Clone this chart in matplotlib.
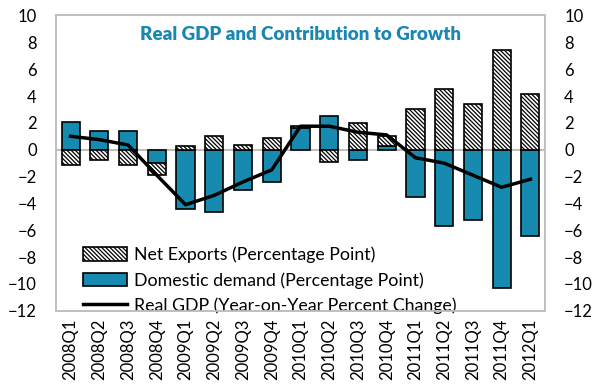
import numpy as np
import matplotlib
matplotlib.use('Agg')
import matplotlib.pyplot as plt

plt.rcParams['font.family'] = ['Lato', 'DejaVu Sans']
plt.rcParams['hatch.color'] = '#505050'
plt.rcParams['hatch.linewidth'] = 0.9

# Trimestres y contribuciones al crecimiento
quarters = ['2008Q1', '2008Q2', '2008Q3', '2008Q4',
            '2009Q1', '2009Q2', '2009Q3', '2009Q4',
            '2010Q1', '2010Q2', '2010Q3', '2010Q4',
            '2011Q1', '2011Q2', '2011Q3', '2011Q4', '2012Q1']
domestic_demand = [2.05, 1.4, 1.4, -1.0, -4.4, -4.65, -3.0, -2.4,
                   1.65, 2.5, -0.8, 0.25, -3.5, -5.65, -5.25, -10.3, -6.4]
net_exports = [-1.15, -0.8, -1.15, -0.9, 0.25, 1.0, 0.35, 0.9,
               0.1, -0.9, 2.0, 0.77, 3.05, 4.55, 3.4, 7.4, 4.15]
real_gdp = [1.0, 0.75, 0.35, -1.9, -4.1, -3.4, -2.4, -1.5,
            1.75, 1.75, 1.3, 1.1, -0.6, -1.0, -1.9, -2.8, -2.2]

dd = np.array(domestic_demand)
nx = np.array(net_exports)
x = np.arange(len(quarters))

# Apilar: mismo signo se apila sobre demanda doméstica
nx_bottom = np.where(np.sign(nx) == np.sign(dd), dd, 0)

fig = plt.figure(figsize=(5.98, 3.87), dpi=100)
ax = fig.add_axes([0.094, 0.197, 0.817, 0.763])

bar_blue = '#178BAF'
w = 0.63
ax.bar(x, dd, w, color=bar_blue, edgecolor='black', linewidth=1.2,
       label='Domestic demand (Percentage Point)', zorder=2)
ax.bar(x, nx, w, bottom=nx_bottom, color='white', edgecolor='black',
       linewidth=1.2, hatch='\\' * 8, label='Net Exports (Percentage Point)', zorder=2)
ax.plot(x, real_gdp, color='black', linewidth=2.5,
        label='Real GDP (Year-on-Year Percent Change)', zorder=3)

ax.axhline(0, color='#BFBFBF', linewidth=1.5, zorder=1)

ax.set_xlim(-0.5, len(quarters) - 0.5)
ax.set_ylim(-12, 10)
ax.set_yticks(np.arange(-12, 11, 2))
ax.set_xticks(x)
ax.set_xticklabels(quarters, rotation=90, fontsize=12)
ax.tick_params(axis='both', length=0, labelsize=12)
ax.tick_params(axis='x', pad=6)
ax.tick_params(axis='y', pad=14)

# Eje derecho espejo
ax2 = ax.twinx()
ax2.set_ylim(-12, 10)
ax2.set_yticks(np.arange(-12, 11, 2))
ax2.tick_params(axis='y', length=0, labelsize=12, pad=14)

for a in (ax, ax2):
    for s in a.spines.values():
        s.set_color('#C0C0C0')
        s.set_linewidth(1.3)

ax.set_title('Real GDP and Contribution to Growth', fontsize=13.5, fontweight='heavy',
             color='#1A87B3', y=0.89)

handles, labels = ax.get_legend_handles_labels()
order = [2, 1, 0]
ax.legend([handles[i] for i in order], [labels[i] for i in order],
          loc='lower left', bbox_to_anchor=(0.04, -0.035), frameon=False,
          fontsize=12.8, handlelength=2.5, handleheight=0.8, labelspacing=0.5,
          handletextpad=0.4, borderaxespad=0)

fig.savefig('out.png', dpi=100)
